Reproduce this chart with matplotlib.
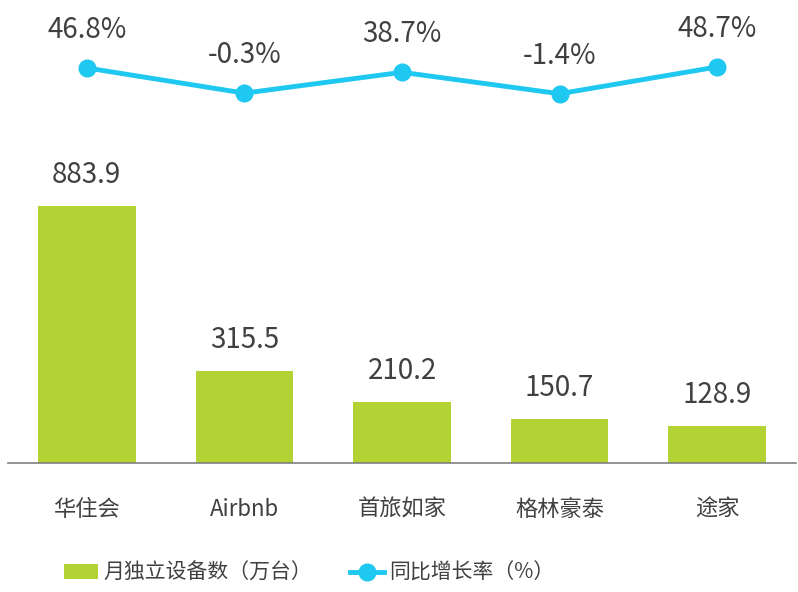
import matplotlib.pyplot as plt
import numpy as np

plt.rcParams['font.family'] = ['Noto Sans CJK SC', 'DejaVu Sans']

# data
brands = ['华住会', 'Airbnb', '首旅如家', '格林豪泰', '途家']
devices = [883.9, 315.5, 210.2, 150.7, 128.9]
growth = [46.8, -0.3, 38.7, -1.4, 48.7]

bar_color = '#b3d334'
line_color = '#1ec8f0'
text_color = '#404040'

fig = plt.figure(figsize=(7.98, 5.92), dpi=100)
ax = fig.add_axes([8 / 798, 129 / 592, 788 / 798, 463 / 592])
x = np.arange(len(brands))

bars = ax.bar(x, devices, width=0.62, color=bar_color, label='月独立设备数（万台）', zorder=2)
ax.set_xlim(-0.5, 4.5)
ax.set_ylim(0, 1592)
for xi, v in zip(x, devices):
    ax.annotate(f'{v:.1f}', (xi, v), xytext=(0, 31), textcoords='offset pixels',
                ha='center', va='center', fontsize=20, color=text_color)

ax.set_xticks(x)
ax.set_xticklabels(brands, fontsize=16, color=text_color)
ax.tick_params(axis='x', length=0, pad=25)
ax.set_yticks([])
for s in ['top', 'right', 'left']:
    ax.spines[s].set_visible(False)
ax.spines['bottom'].set_color('#808080')
ax.spines['bottom'].set_linewidth(1.2)

ax2 = ax.twinx()
ax2.plot(x, growth, color=line_color, lw=3.5, marker='o', markersize=12,
         label='同比增长率（%）', zorder=3)
ax2.set_ylim(-691.6, 173.8)
ax2.set_yticks([])
for s in ax2.spines.values():
    s.set_visible(False)
for xi, v in zip(x, growth):
    ax2.annotate(f'{v:.1f}%', (xi, v), xytext=(0, 38), textcoords='offset pixels',
                 ha='center', va='center', fontsize=20, color=text_color)

h1, l1 = ax.get_legend_handles_labels()
h2, l2 = ax2.get_legend_handles_labels()
fig.legend(h1 + h2, l1 + l2, loc='center left', bbox_to_anchor=(45 / 798, 19 / 592), ncol=2,
           frameon=False, fontsize=15, labelcolor=text_color, handlelength=1.65,
           handleheight=0.75, handletextpad=0.25, columnspacing=1.8)

fig.savefig('out.png', dpi=100)
